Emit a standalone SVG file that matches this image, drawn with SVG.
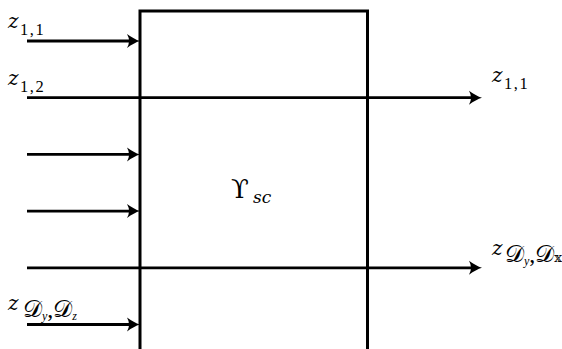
<svg xmlns="http://www.w3.org/2000/svg" width="562" height="349" viewBox="0 0 562 349">
<style>
  .ln{stroke:#000;stroke-width:2.8;fill:none}
  .box{stroke:#000;stroke-width:3;fill:none}
  text{font-family:"Liberation Serif","DejaVu Serif",serif;fill:#000}
  .m{font-family:"DejaVu Serif",serif;font-style:italic;font-size:20px}
  .s{font-size:16.5px;letter-spacing:1.5px}
  .si{font-size:24px}
</style>
<defs>
  <marker id="ah" markerUnits="userSpaceOnUse" viewBox="-14 -8 15 16" refX="-5" refY="0" markerWidth="15" markerHeight="16" orient="auto">
    <path d="M-13,-7 Q-6,-1.8 0,0 Q-6,1.8 -13,7 Q-9,0 -13,-7 Z" fill="#000"/>
  </marker>
</defs>
<rect width="562" height="349" fill="#fff"/>
<g id="block">
  <path class="box" d="M140,349 V11 H367.5 V349"/>
  <text x="231" y="198" style="font-family:'DejaVu Serif',serif;font-size:26px">ϒ</text>
  <text x="253" y="203" style="font-family:'DejaVu Serif',serif;font-style:italic;font-size:17px">sc</text>
</g>
<g id="connectors">
  <line class="ln" x1="27" y1="41" x2="135" y2="41" marker-end="url(#ah)"/>
  <line class="ln" x1="27" y1="97.7" x2="477" y2="97.7" marker-end="url(#ah)"/>
  <line class="ln" x1="27" y1="154.4" x2="135" y2="154.4" marker-end="url(#ah)"/>
  <line class="ln" x1="27" y1="211.1" x2="135" y2="211.1" marker-end="url(#ah)"/>
  <line class="ln" x1="27" y1="267.8" x2="477" y2="267.8" marker-end="url(#ah)"/>
  <line class="ln" x1="27" y1="324.5" x2="135" y2="324.5" marker-end="url(#ah)"/>
</g>
<g id="label-in-1-1">
  <text x="8" y="28" class="m">z</text><text x="20" y="35" class="s">1,1</text>
</g>
<g id="label-in-1-2">
  <text x="8" y="85" class="m">z</text><text x="20" y="92" class="s">1,2</text>
</g>
<g id="label-in-d">
  <text x="8" y="310" class="m">z</text><text x="23" y="317" class="si">𝒟<tspan font-size="12" font-style="italic" dy="3">y</tspan><tspan dy="-3">,𝒟</tspan><tspan font-size="12" font-style="italic" dy="3">z</tspan></text>
</g>
<g id="label-out-1-1">
  <text x="492" y="82" class="m">z</text><text x="504" y="89" class="s">1,1</text>
</g>
<g id="label-out-d">
  <text x="492" y="255" class="m">z</text><text x="505" y="262" class="si">𝒟<tspan font-size="12" font-style="italic" dy="3">y</tspan><tspan dy="-3">,𝒟</tspan><tspan font-size="13">𝕩</tspan></text>
</g>
</svg>
